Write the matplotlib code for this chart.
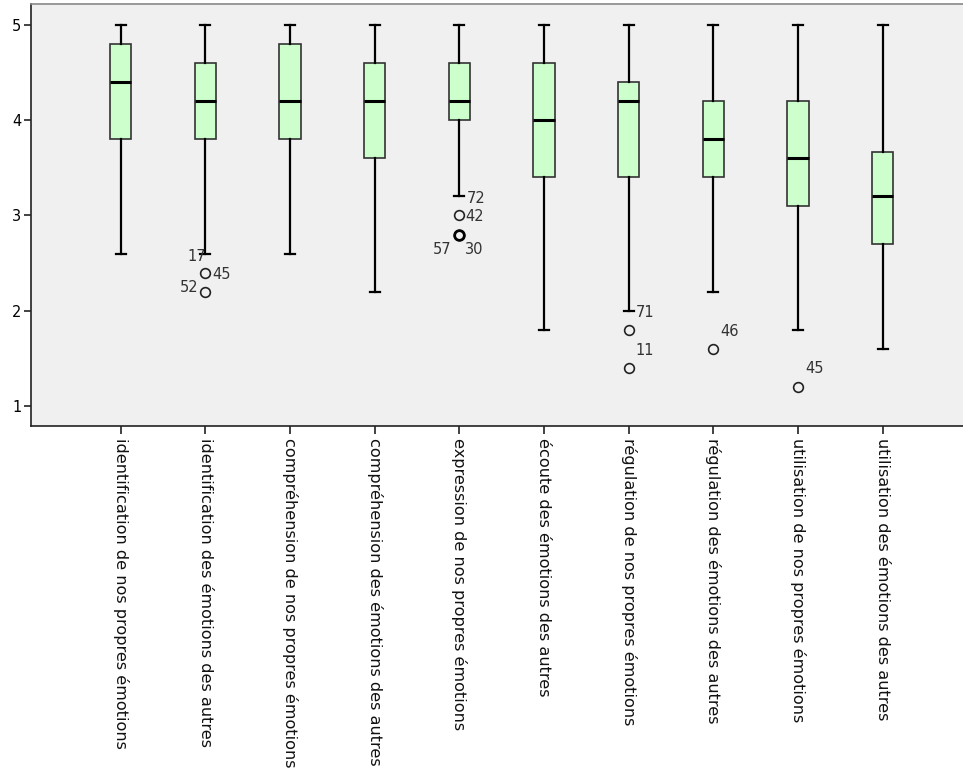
import matplotlib
matplotlib.use('Agg')
import matplotlib.pyplot as plt
import numpy as np

# donnees
categories = ['identification de nos propres émotions',
              'identification des émotions des autres',
              'compréhension de nos propres émotions',
              'compréhension des émotions des autres',
              'expression de nos propres émotions',
              'écoute des émotions des autres',
              'régulation de nos propres émotions',
              'régulation des émotions des autres',
              'utilisation de nos propres émotions',
              'utilisation des émotions des autres']
whislo = [2.6, 2.6, 2.6, 2.2, 3.2, 1.8, 2.0, 2.2, 1.8, 1.6]
q1     = [3.8, 3.8, 3.8, 3.6, 4.0, 3.4, 3.4, 3.4, 3.1, 2.7]
med    = [4.4, 4.2, 4.2, 4.2, 4.2, 4.0, 4.2, 3.8, 3.6, 3.2]
q3     = [4.8, 4.6, 4.8, 4.6, 4.6, 4.6, 4.4, 4.2, 4.2, 3.67]
whishi = [5.0, 5.0, 5.0, 5.0, 5.0, 5.0, 5.0, 5.0, 5.0, 5.0]
fliers = [[], [2.4, 2.2], [], [], [3.0, 2.8], [], [1.8, 1.4], [1.6], [1.2], []]

# etiquettes des cas: (boite, valeur, texte)
case_box   = [2, 2, 2, 5, 5, 5, 5, 7, 7, 8, 9]
case_val   = [2.6, 2.4, 2.2, 3.2, 3.0, 2.8, 2.8, 2.0, 1.4, 1.6, 1.2]
case_text  = ['17', '45', '52', '72', '42', '57', '30', '71', '11', '46', '45']
# decalages en pixels et alignement
case_off   = [(1, -3), (7, -2), (-7, 4), (7, -2), (6, -1), (-8, -15), (6, -15),
              (7, -2), (7, 17), (7, 17), (7, 18)]
case_ha    = ['right', 'left', 'right', 'left', 'left', 'right', 'left',
              'left', 'left', 'left', 'left']

stats = []
for i in range(len(categories)):
    stats.append({'label': categories[i], 'whislo': whislo[i], 'q1': q1[i],
                  'med': med[i], 'q3': q3[i], 'whishi': whishi[i],
                  'fliers': fliers[i]})

fig = plt.figure(figsize=(9.63, 7.73), dpi=100)
ax = fig.add_axes([31/963, 1-426/773, 1-31/963, (426-4)/773])
ax.set_facecolor('#f0f0f0')

positions = np.arange(1, len(categories)+1)
ax.bxp(stats, positions=positions, widths=0.25, capwidths=0.12,
       patch_artist=True, showfliers=True,
       boxprops=dict(facecolor='#ccffcc', edgecolor='#333333', linewidth=1.2),
       medianprops=dict(color='black', linewidth=2.2),
       whiskerprops=dict(color='black', linewidth=1.6),
       capprops=dict(color='black', linewidth=1.6),
       flierprops=dict(marker='o', markerfacecolor='none', markeredgecolor='#222222',
                       markersize=7, markeredgewidth=1.2))

# cas 57 et 30 superposes: cercle plus epais
ax.plot([5], [2.8], marker='o', markerfacecolor='none', markeredgecolor='black',
        markersize=7, markeredgewidth=2.0, linestyle='none')

for i in range(len(case_text)):
    ax.annotate(case_text[i], (case_box[i], case_val[i]), xytext=case_off[i],
                textcoords='offset pixels', ha=case_ha[i], va='center',
                fontsize=10.5, color='#333333')

ax.set_xlim(-0.06, 10.95)
ax.set_ylim(0.79, 5.22)
ax.set_yticks([1, 2, 3, 4, 5])
ax.set_xticks(positions)
ax.set_xticklabels(categories, rotation=270, fontsize=11.6, va='top', ha='center',
                   color='#111111')
ax.tick_params(axis='y', labelsize=10.5, length=5, width=1.2, color='#222222', pad=2)
ax.tick_params(axis='x', length=6, width=1.2, color='#222222', pad=3)

ax.spines['right'].set_visible(False)
ax.spines['top'].set_color('#888888')
ax.spines['top'].set_linewidth(1.2)
ax.spines['left'].set_color('#222222')
ax.spines['left'].set_linewidth(1.2)
ax.spines['bottom'].set_color('#222222')
ax.spines['bottom'].set_linewidth(1.2)

fig.savefig('out.png', dpi=100)
